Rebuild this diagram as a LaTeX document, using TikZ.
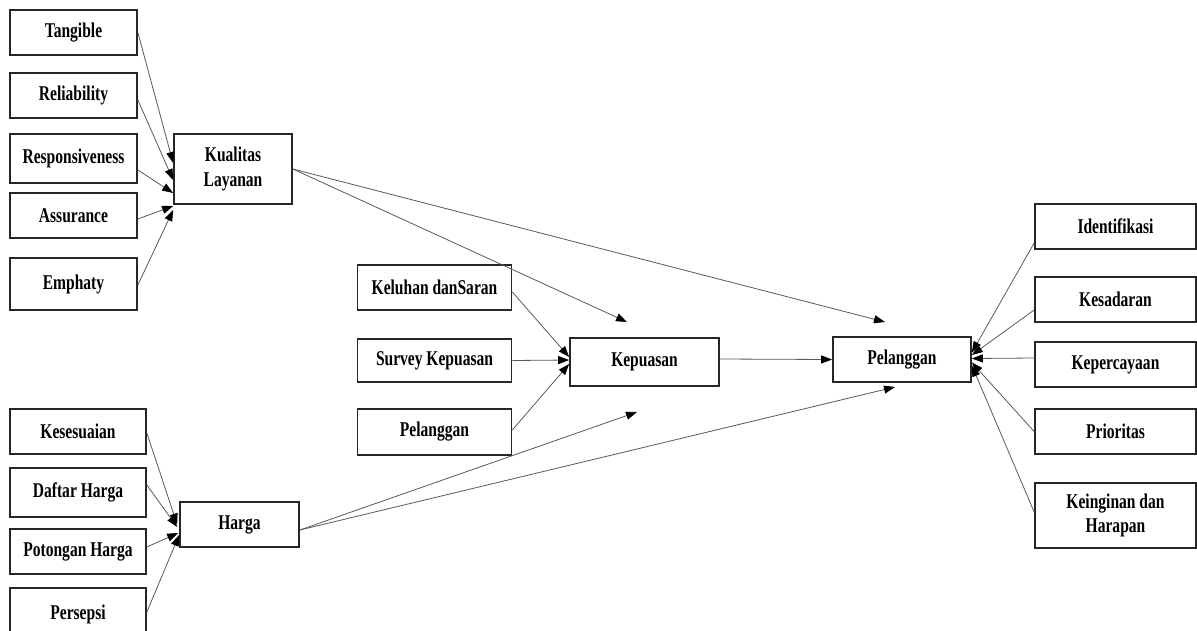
\documentclass[tikz,border=0pt]{standalone}
\usepackage{fontspec}
\setmainfont[FakeStretch=0.74]{Liberation Serif}
\usetikzlibrary{positioning}
\usetikzlibrary{arrows.meta}

\tikzset{
    box/.style={draw=black!85, line width=1.7pt, inner sep=0pt, align=center,
        font=\bfseries\fontsize{21}{24.5}\selectfont},
    link/.style={draw=black!65, line width=0.8pt},
    arr/.style={link, -{Triangle[length=11pt, width=8pt, color=black]}}
}

\begin{document}
\begin{tikzpicture}[x=1pt, y=-1pt]
    \useasboundingbox (0,0) rectangle (1197,630);

    % indikator kualitas layanan
    \foreach \n/\t/\ya/\yb in {tang/Tangible/10/55, rel/Reliability/73/118,
        resp/Responsiveness/134/183, assur/Assurance/193/238, emph/Emphaty/258/310} {
        \pgfmathsetmacro\h{\yb-\ya}
        \node[box, minimum width=127pt, minimum height=\h pt] (\n) at (73.5, {(\ya+\yb)/2}) {\t};
    }
    % indikator harga
    \foreach \n/\t/\ya/\yb in {sesuai/Kesesuaian/409/454, daftar/Daftar Harga/468/517,
        potong/Potongan Harga/529/574, persepsi/Persepsi/588/640} {
        \pgfmathsetmacro\h{\yb-\ya}
        \node[box, minimum width=136pt, minimum height=\h pt] (\n) at (78, {(\ya+\yb)/2}) {\t};
    }
    % indikator kepuasan
    \foreach \n/\t/\ya/\yb in {keluhan/Keluhan danSaran/265/310, survey/Survey Kepuasan/339/382,
        plgkiri/Pelanggan/409/455} {
        \pgfmathsetmacro\h{\yb-\ya}
        \node[box, minimum width=154pt, minimum height=\h pt] (\n) at (434.5, {(\ya+\yb)/2}) {\t};
    }
    % indikator loyalitas pelanggan
    \foreach \n/\t/\ya/\yb in {ident/Identifikasi/204/249, sadar/Kesadaran/277/322,
        percaya/Kepercayaan/342/387, prior/Prioritas/409/454,
        ingin/{Keinginan dan\\Harapan}/483/548} {
        \pgfmathsetmacro\h{\yb-\ya}
        \node[box, minimum width=161pt, minimum height=\h pt] (\n) at (1115.5, {(\ya+\yb)/2}) {\t};
    }

    % variabel
    \node[box, minimum width=118pt, minimum height=70pt] (kual) at (233, 169) {Kualitas\\Layanan};
    \node[box, minimum width=119pt, minimum height=45pt] (harga) at (239.5, 524.5) {Harga};
    \node[box, minimum width=149pt, minimum height=48pt] (kepuasan) at (644.5, 362) {Kepuasan};
    \node[box, minimum width=138pt, minimum height=45pt] (plg) at (902, 359.5) {Pelanggan};

    \coordinate (kualKep) at (627, 322);
    \coordinate (kualPlg) at (885, 322);
    \coordinate (hargaKep) at (637, 412);
    \coordinate (hargaPlg) at (895, 387);

    % panah indikator ke variabel
    \draw[arr] (tang.east) -- ([yshift=6pt]kual.west);
    \draw[arr] ([yshift=-4.5pt]rel.east) -- ([yshift=-11pt]kual.west);
    \draw[arr] ([yshift=-11.5pt]resp.east) -- ([yshift=-24pt]kual.west);
    \draw[arr] ([yshift=-3.5pt]assur.east) -- ([yshift=-37pt]kual.west);
    \draw[arr] ([yshift=-1pt]emph.east) -- ([yshift=-41pt]kual.west);

    \draw[arr] ([yshift=-1.5pt]sesuai.east) -- ([xshift=-2pt]harga.west);
    \draw[arr] ([yshift=7.5pt]daftar.east) -- ([xshift=-2pt, yshift=-2.5pt]harga.west);
    \draw[arr] ([yshift=4.5pt]potong.east) -- ([xshift=-1pt, yshift=-8.5pt]harga.west);
    \draw[arr] ([yshift=2pt]persepsi.east) -- ([yshift=-10.5pt]harga.west);

    \draw[arr] ([yshift=-4.5pt]keluhan.east) -- ([yshift=5pt]kepuasan.west);
    \draw[arr] (survey.east) -- ([yshift=2pt]kepuasan.west);
    \draw[arr] ([yshift=2pt]plgkiri.east) -- ([yshift=-2pt]kepuasan.west);

    \draw[arr] ([yshift=-16.5pt]ident.west) -- ([yshift=7pt]plg.east);
    \draw[arr] ([yshift=-10.5pt]sadar.west) -- ([yshift=4.5pt]plg.east);
    \draw[arr] ([yshift=6.5pt]percaya.west) -- ([yshift=1pt]plg.east);
    \draw[arr] (prior.west) -- ([yshift=-3pt]plg.east);
    \draw[arr] ([yshift=3.5pt]ingin.west) -- ([yshift=-6pt]plg.east);

    % panah antar variabel
    \draw[arr] (kual.east) -- (kualKep);
    \draw[arr] (kual.east) -- (kualPlg);
    \draw[arr] ([yshift=-5.5pt]harga.east) -- (hargaKep);
    \draw[arr] ([yshift=-5.5pt]harga.east) -- (hargaPlg);
    \draw[arr] ([yshift=3pt]kepuasan.east) -- (plg.west);
\end{tikzpicture}
\end{document}
